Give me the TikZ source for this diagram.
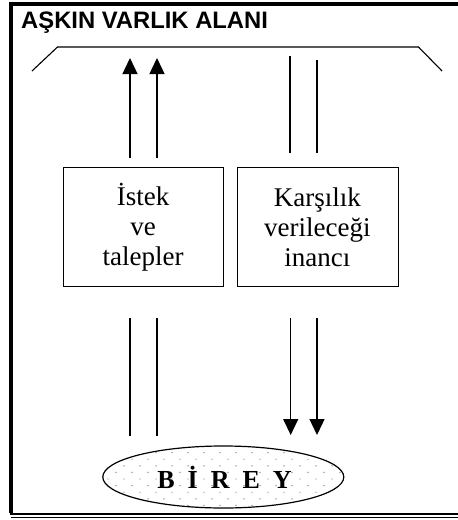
\documentclass[tikz,border=0pt]{standalone}
\usepackage{fontspec}
\setmainfont{Liberation Serif}
\newfontfamily\titlefont{Liberation Sans}
\usetikzlibrary{arrows.meta,shapes.geometric}
\begin{document}
\begin{tikzpicture}[x=1pt,y=-1pt,
  conn/.style={line width=1.3pt},
  upconn/.style={conn,-{Triangle[width=15pt,length=16pt]}},
  box/.style={draw,line width=0.9pt,minimum width=160pt,minimum height=119pt,inner sep=0pt,anchor=north west,
     font=\fontsize{27}{30}\selectfont,align=center},
  frame/.style={line width=4pt}]
\useasboundingbox (0,0) rectangle (458,520);
% outer frame
\draw[frame] (11,2) -- (11,513);
\draw[frame] (9,4) -- (458,4);
\draw[line width=2.4pt] (10,513.9) -- (458,513.9);
\draw[line width=1.3pt] (11,517.4) -- (458,517.4);
% title
\node[anchor=base west,inner sep=0pt,font=\titlefont\bfseries\fontsize{23.8}{28}\selectfont] (title) at (21,28) {AŞKIN VARLIK ALANI};
% trapezoid
\draw[line width=1.1pt] (32,71) -- (57.5,47) -- (418.5,47) -- (442,71);
% boxes
\node[box] (istek) at (62.7,167.3) {İstek\\ve\\talepler};
\node[box,minimum width=161pt] (karsilik) at (236.5,167.3) {Karşılık\\verileceği\\inancı};
% ellipse
\node[draw,ellipse,line width=1.2pt,minimum width=241pt,minimum height=62pt,inner sep=0pt] (birey) at (223.3,477) {};
\begin{scope}
\clip (223.3,477) ellipse [x radius=120pt,y radius=30.6pt];
\foreach \r in {0,...,10}{
  \foreach \c in {0,...,16}{
    \pgfmathsetmacro{\xx}{100+\c*16+mod(\r,2)*8}
    \pgfmathsetmacro{\yy}{446+\r*6.6}
    \fill[gray] (\xx,\yy) circle (0.7pt);
  }
}
\end{scope}
\node[inner sep=1pt,font=\bfseries\fontsize{26}{30}\selectfont] (biretext) at (224.5,477.5) {B\hspace{13pt}İ\hspace{13pt}R\hspace{13pt}E\hspace{13pt}Y};
% upper connectors
\coordinate (u1a) at (130,158); \coordinate (u1b) at (130,58);
\coordinate (u2a) at (157,158); \coordinate (u2b) at (157,58);
\draw[upconn] (u1a) -- (u1b);
\draw[upconn] (u2a) -- (u2b);
\coordinate (r1a) at (290,153); \coordinate (r1b) at (290,56);
\coordinate (r2a) at (317,153); \coordinate (r2b) at (317,60);
\draw[conn] (r1a) -- (r1b);
\draw[conn] (r2a) -- (r2b);
% lower connectors
\coordinate (l1a) at (130,318); \coordinate (l1b) at (130,436);
\coordinate (l2a) at (157,318); \coordinate (l2b) at (157,436);
\draw[conn] (l1a) -- (l1b);
\draw[conn] (l2a) -- (l2b);
\coordinate (d1a) at (290.7,318); \coordinate (d1b) at (290.7,435);
\coordinate (d2a) at (317,318); \coordinate (d2b) at (317,435);
\draw[upconn] (d1a) -- (d1b);
\draw[upconn] (d2a) -- (d2b);
\end{tikzpicture}
\end{document}
